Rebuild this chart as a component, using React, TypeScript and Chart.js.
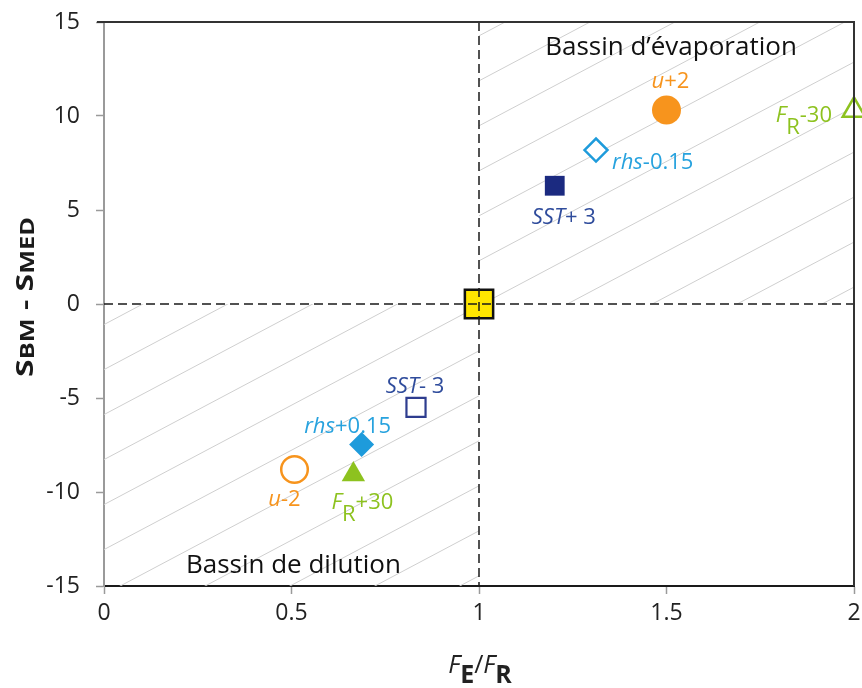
import React, { useEffect, useRef } from "react";
import { Chart, registerables } from "chart.js";

Chart.register(...registerables);

// ---------- data ----------
const X_TICK_VALUES = [0, 0.5, 1, 1.5, 2];
const X_TICK_LABELS = ["0", "0.5", "1", "1.5", "2"];
const Y_TICK_VALUES = [-15, -10, -5, 0, 5, 10, 15];

const SERIES_NAMES = ["u+2", "rhs-0.15", "SST+3", "FR-30", "ref", "SST-3", "rhs+0.15", "u-2", "FR+30"];
const X_VALUES = [1.5, 1.312, 1.202, 2.0, 1.0, 0.832, 0.687, 0.508, 0.665];
const Y_VALUES = [10.32, 8.19, 6.29, 10.3, 0, -5.5, -7.47, -8.8, -9.07];

const REGION_LABELS = ["Bassin d\u2019\u00e9vaporation", "Bassin de dilution"];

// ---------- styles ----------
const ORANGE = "#F7941D";
const LBLUE = "#1E9BDB";
const LBLUE_T = "#27A2DE";
const NAVY = "#1B2A80";
const NAVY_O = "#2E3D8F";
const NAVY_T = "#2F4C9C";
const GREEN = "#8DC21F";
const YELLOW = "#FFE600";
const FONT = '"Open Sans", "DejaVu Sans", sans-serif';

const MARKERS = [
  { style: "circle", r: 14.5, fill: ORANGE, stroke: ORANGE, bw: 0 },
  { style: "rectRot", r: 11.5, fill: "#ffffff", stroke: LBLUE, bw: 2.5 },
  { style: "rect", r: 14, fill: NAVY, stroke: NAVY, bw: 0 },
  { style: "triangle", r: 13, fill: "#ffffff", stroke: GREEN, bw: 2.5 },
  { style: "rect", r: 20, fill: YELLOW, stroke: "#111111", bw: 2.5 },
  { style: "rect", r: 13.5, fill: "#ffffff", stroke: NAVY_O, bw: 2.2 },
  { style: "rectRot", r: 12.5, fill: LBLUE, stroke: LBLUE, bw: 0 },
  { style: "circle", r: 13.3, fill: "#ffffff", stroke: ORANGE, bw: 2.5 },
  { style: "triangle", r: 13.5, fill: GREEN, stroke: GREEN, bw: 0 },
];

type Part = { t: string; it?: boolean; bold?: boolean; sub?: boolean; size?: number };

const POINT_LABELS: { i: number; parts: Part[]; color: string; dx: number; dy: number; align: string }[] = [
  { i: 0, parts: [{ t: "u", it: true }, { t: "+2" }], color: ORANGE, dx: 4, dy: -22, align: "center" },
  { i: 1, parts: [{ t: "rhs", it: true }, { t: "-0.15" }], color: LBLUE_T, dx: 16, dy: 19, align: "left" },
  { i: 2, parts: [{ t: "SST", it: true }, { t: "+ 3" }], color: NAVY_T, dx: 9, dy: 38, align: "center" },
  { i: 3, parts: [{ t: "F", it: true }, { t: "R", sub: true }, { t: "-30" }], color: GREEN, dx: -22, dy: 12, align: "right" },
  { i: 5, parts: [{ t: "SST", it: true }, { t: "- 3" }], color: NAVY_T, dx: -1, dy: -14, align: "center" },
  { i: 6, parts: [{ t: "rhs", it: true }, { t: "+0.15" }], color: LBLUE_T, dx: -14, dy: -11, align: "center" },
  { i: 7, parts: [{ t: "u", it: true }, { t: "-2" }], color: ORANGE, dx: -10, dy: 37, align: "center" },
  { i: 8, parts: [{ t: "F", it: true }, { t: "R", sub: true }, { t: "+30" }], color: GREEN, dx: 9, dy: 34, align: "center" },
];

function fontFor(p: Part, base: number) {
  const size = p.size ?? base;
  return `${p.it ? "italic " : ""}${p.bold ? "bold " : ""}${size}px ${FONT}`;
}

function drawRich(
  ctx: CanvasRenderingContext2D,
  parts: Part[],
  x: number,
  y: number,
  align: string,
  base: number,
  color: string,
  subShift: number,
  targetWidth?: number
) {
  ctx.save();
  const ws: number[] = [];
  let w = 0;
  for (const p of parts) {
    ctx.font = fontFor(p, base);
    const m = ctx.measureText(p.t).width;
    ws.push(m);
    w += m;
  }
  const sx = targetWidth ? targetWidth / w : 1;
  ctx.translate(x, y);
  ctx.scale(sx, 1);
  let cx = align === "left" ? 0 : align === "right" ? -w : -w / 2;
  ctx.textAlign = "left";
  ctx.textBaseline = "alphabetic";
  ctx.fillStyle = color;
  parts.forEach((p, i) => {
    ctx.font = fontFor(p, base);
    ctx.fillText(p.t, cx, p.sub ? subShift : 0);
    cx += ws[i];
  });
  ctx.restore();
}

const decorPlugin = {
  id: "decor",
  beforeDatasetsDraw(chart: any) {
    const { ctx, chartArea: a, scales } = chart;
    const x1 = scales.x.getPixelForValue(1);
    const y0 = scales.y.getPixelForValue(0);
    // hatching in the two "consistent" quadrants
    ctx.save();
    ctx.beginPath();
    ctx.rect(x1, a.top, a.right - x1, y0 - a.top);
    ctx.rect(a.left, y0, x1 - a.left, a.bottom - y0);
    ctx.clip();
    ctx.strokeStyle = "#cfcfcf";
    ctx.lineWidth = 1;
    const slope = 0.53;
    const spacing = 45;
    const ax = a.left + 3;
    const ay = y0 + 19;
    for (let k = -40; k <= 40; k++) {
      const yy = ay + k * spacing;
      ctx.beginPath();
      ctx.moveTo(a.left - 10, yy + slope * (ax - (a.left - 10)));
      ctx.lineTo(a.right + 10, yy - slope * (a.right + 10 - ax));
      ctx.stroke();
    }
    ctx.restore();
  },
  afterDatasetsDraw(chart: any) {
    const { ctx, chartArea: a, scales } = chart;
    const x1 = scales.x.getPixelForValue(1);
    const y0 = scales.y.getPixelForValue(0);
    ctx.save();
    ctx.strokeStyle = "#1a1a1a";
    ctx.lineWidth = 1.5;
    ctx.setLineDash([9, 5]);
    ctx.beginPath();
    ctx.moveTo(a.left, y0);
    ctx.lineTo(a.right, y0);
    ctx.moveTo(x1, a.top);
    ctx.lineTo(x1, a.bottom);
    ctx.stroke();
    ctx.setLineDash([]);
    // top and right frame
    ctx.strokeStyle = "#333333";
    ctx.lineWidth = 2;
    ctx.beginPath();
    ctx.moveTo(a.left - 7, a.top);
    ctx.lineTo(a.right, a.top);
    ctx.lineTo(a.right, a.bottom);
    ctx.stroke();
    ctx.restore();

    // point labels
    for (const L of POINT_LABELS) {
      const px = scales.x.getPixelForValue(X_VALUES[L.i]);
      const py = scales.y.getPixelForValue(Y_VALUES[L.i]);
      drawRich(ctx, L.parts, px + L.dx, py + L.dy, L.align, 22, L.color, 12);
    }
    // region labels
    drawRich(ctx, [{ t: REGION_LABELS[0] }], scales.x.getPixelForValue(1.512), scales.y.getPixelForValue(13.25), "center", 26, "#111", 0);
    drawRich(ctx, [{ t: REGION_LABELS[1] }], scales.x.getPixelForValue(0.505), scales.y.getPixelForValue(-14.31), "center", 26, "#111", 0);
  },
  afterDraw(chart: any) {
    const { ctx, chartArea: a } = chart;
    // x title
    drawRich(
      ctx,
      [
        { t: "F", it: true },
        { t: "E", bold: true, sub: true },
        { t: "/" },
        { t: "F", it: true },
        { t: "R", bold: true, sub: true },
      ],
      (a.left + a.right) / 2 + 1,
      673,
      "center",
      25,
      "#222",
      10
    );
    // y title
    ctx.save();
    ctx.translate(33, 297);
    ctx.rotate(-Math.PI / 2);
    drawRich(
      ctx,
      [
        { t: "S", bold: true, size: 24 },
        { t: "BM", bold: true, sub: true, size: 19 },
        { t: " - ", bold: true, size: 24 },
        { t: "S", bold: true, size: 24 },
        { t: "MED", bold: true, sub: true, size: 19 },
      ],
      0,
      0,
      "center",
      24,
      "#1a1a1a",
      1,
      160
    );
    ctx.restore();
  },
};

export default function App() {
  const ref = useRef<HTMLCanvasElement | null>(null);
  useEffect(() => {
    document.body.style.margin = "0";
    const canvas = ref.current;
    if (!canvas) return;
    const datasets = SERIES_NAMES.map((name, i) => {
      const m = MARKERS[i];
      return {
        label: name,
        data: [{ x: X_VALUES[i], y: Y_VALUES[i] }],
        pointStyle: m.style,
        pointRadius: m.r,
        pointHoverRadius: m.r,
        backgroundColor: m.fill,
        borderColor: m.stroke,
        pointBorderWidth: m.bw,
        borderWidth: m.bw,
        clip: false,
      };
    });
    const chart = new Chart(canvas, {
      type: "scatter",
      data: { datasets: datasets as any },
      options: {
        animation: false,
        responsive: false,
        devicePixelRatio: 1,
        layout: { autoPadding: false, padding: { top: 22, right: 8, left: 0, bottom: 0 } },
        plugins: { legend: { display: false }, tooltip: { enabled: false } },
        scales: {
          x: {
            type: "linear",
            min: 0,
            max: 2,
            afterFit: (s: any) => {
              s.height = 102;
              s.paddingLeft = 0;
              s.paddingRight = 0;
            },
            afterBuildTicks: (s: any) => {
              s.ticks = X_TICK_VALUES.map((v) => ({ value: v }));
            },
            ticks: {
              callback: (v: any) => {
                const idx = X_TICK_VALUES.indexOf(Number(v));
                return idx >= 0 ? X_TICK_LABELS[idx] : "";
              },
              color: "#222",
              font: { family: FONT, size: 23 },
              padding: 6,
              maxRotation: 0,
            },
            grid: { drawOnChartArea: false, drawTicks: true, tickLength: 8, tickColor: "#9a9a9a", tickWidth: 1.5 },
            border: { display: true, color: "#1a1a1a", width: 2 },
          },
          y: {
            type: "linear",
            min: -15,
            max: 15,
            afterFit: (s: any) => {
              s.width = 104;
              s.paddingTop = 0;
              s.paddingBottom = 0;
            },
            afterBuildTicks: (s: any) => {
              s.ticks = Y_TICK_VALUES.map((v) => ({ value: v }));
            },
            ticks: {
              color: "#222",
              font: { family: FONT, size: 23 },
              padding: 16,
            },
            grid: { drawOnChartArea: false, drawTicks: true, tickLength: 8, tickColor: "#9a9a9a", tickWidth: 1.5 },
            border: { display: true, color: "#9a9a9a", width: 2 },
          },
        },
      },
      plugins: [decorPlugin as any],
    });
    return () => chart.destroy();
  }, []);
  return (
    <div style={{ width: 862, height: 688, background: "#fff" }}>
      <canvas ref={ref} width={862} height={688} />
    </div>
  );
}
